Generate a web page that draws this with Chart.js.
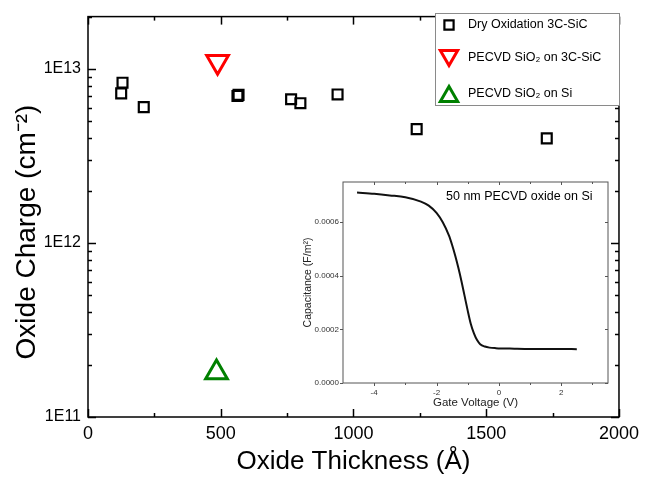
<!DOCTYPE html>
<html>
<head>
<meta charset="utf-8">
<script src="https://cdn.jsdelivr.net/npm/chart.js@4.4.1/dist/chart.umd.min.js"></script>
<style>
  html, body { margin: 0; padding: 0; background: #fff; }
  #wrap { position: relative; width: 645px; height: 479px; }
  #mainChart { position: absolute; left: 0; top: 0; }
  #insetChart { position: absolute; left: 290px; top: 170px; }
</style>
</head>
<body>
<div id="wrap">
  <canvas id="mainChart" width="645" height="479"></canvas>
  <canvas id="insetChart" width="330" height="245"></canvas>
</div>
<script>
// main plot data (thickness in Å, charge in cm^-2)
const dryThickness = [125, 130, 210, 563, 567, 765, 800, 940, 1238, 1728];
const dryCharge = [7.24e12, 8.34e12, 6.04e12, 7.0e12, 7.1e12, 6.7e12, 6.36e12, 7.14e12, 4.51e12, 3.99e12];
const pecvdSicThickness = [488];
const pecvdSicCharge = [1.1e13];
const pecvdSiThickness = [484];
const pecvdSiCharge = [1.8e11];

const xTickValues = [0, 500, 1000, 1500, 2000];
const yTickValues = [1e11, 1e12, 1e13];
const yTickLabels = ['1E11', '1E12', '1E13'];

const legendLabels = ['Dry Oxidation 3C-SiC', 'PECVD SiO\u2082 on 3C-SiC', 'PECVD SiO\u2082 on Si'];

// inset C-V curve
const gateVoltage = [-4.55, -4, -3.5, -3, -2.5, -2.25, -2, -1.8, -1.6, -1.5, -1.4, -1.3, -1.2, -1.1, -1.0, -0.9, -0.8, -0.7, -0.6, -0.45, -0.3, -0.1, 0.5, 1, 1.5, 2, 2.5];
const capacitance = [7.11e-4, 7.06e-4, 7.0e-4, 6.93e-4, 6.77e-4, 6.62e-4, 6.35e-4, 6.0e-4, 5.5e-4, 5.15e-4, 4.75e-4, 4.3e-4, 3.8e-4, 3.25e-4, 2.7e-4, 2.2e-4, 1.85e-4, 1.6e-4, 1.45e-4, 1.36e-4, 1.32e-4, 1.3e-4, 1.28e-4, 1.27e-4, 1.27e-4, 1.27e-4, 1.26e-4];
const insetXTicks = [-4, -2, 0, 2];
const insetYTicks = [0, 0.0002, 0.0004, 0.0006];
const insetYLabels = ['0.0000', '0.0002', '0.0004', '0.0006'];

const FONT = '"Liberation Sans", Arial, sans-serif';
Chart.defaults.font.family = FONT;
Chart.defaults.color = '#000';

function zip(xs, ys) {
  return xs.map((x, i) => ({ x: x, y: ys[i] }));
}

function line(ctx, x1, y1, x2, y2) {
  ctx.beginPath();
  ctx.moveTo(x1, y1);
  ctx.lineTo(x2, y2);
  ctx.stroke();
}

// frame + tick marks drawn through the chart scales
const frameTicks = {
  id: 'frameTicks',
  afterDatasetsDraw(chart, args, o) {
    const { ctx, chartArea: a, scales: { x, y } } = chart;
    ctx.save();
    ctx.strokeStyle = o.color;
    ctx.lineWidth = o.lineWidth;
    ctx.strokeRect(a.left, a.top, a.width, a.height);
    const bd = o.outward ? 1 : -1;   // bottom / left direction
    const xt = (vals, len) => vals.forEach(v => {
      const px = Math.round(x.getPixelForValue(v)) + 0.5;
      line(ctx, px, a.bottom, px, a.bottom + bd * len);
      line(ctx, px, a.top, px, a.top + len);
    });
    const yt = (vals, len) => vals.forEach(v => {
      const py = Math.round(y.getPixelForValue(v)) + 0.5;
      line(ctx, a.left, py, a.left - bd * len, py);
      line(ctx, a.right, py, a.right - len, py);
    });
    xt(o.xMajor, o.major);
    xt(o.xMinor, o.minor);
    yt(o.yMajor, o.major);
    yt(o.yMinor, o.minor);
    ctx.restore();
  }
};

const legendBox = {
  id: 'legendBox',
  afterDraw(chart) {
    const ctx = chart.ctx;
    ctx.save();
    ctx.fillStyle = '#fff';
    ctx.fillRect(435.5, 13.5, 184, 92);
    ctx.strokeStyle = '#8a8a8a';
    ctx.lineWidth = 1;
    ctx.strokeRect(435.5, 13.5, 184, 92);
    const rows = [25, 58, 94];
    chart.data.datasets.forEach((ds, i) => {
      ctx.strokeStyle = ds.borderColor;
      ctx.fillStyle = 'rgba(0,0,0,0)';
      ctx.lineWidth = ds.borderWidth;
      Chart.helpers.drawPoint(ctx, {
        pointStyle: ds.pointStyle,
        rotation: ds.rotation || 0,
        radius: ds.legendRadius,
        borderWidth: ds.borderWidth
      }, 449, rows[i] + (ds.legendShift || 0));
      ctx.fillStyle = '#000';
      ctx.font = '12.5px ' + FONT;
      ctx.textBaseline = 'middle';
      ctx.fillText(legendLabels[i], 468, rows[i]);
    });
    ctx.restore();
  }
};

// y title drawn by hand so it can sit where the original has it
const yTitle = {
  id: 'yTitle',
  afterDraw(chart, args, o) {
    const ctx = chart.ctx;
    ctx.save();
    ctx.translate(o.x, o.y);
    ctx.rotate(-Math.PI / 2);
    ctx.fillStyle = '#000';
    ctx.font = o.size + 'px ' + FONT;
    ctx.textAlign = 'center';
    ctx.textBaseline = 'middle';
    ctx.fillText(o.text, 0, 0);
    ctx.restore();
  }
};

const yMinor = [];
[1e11, 1e12].forEach(d => { for (let k = 2; k <= 9; k++) yMinor.push(k * d); });
yMinor.push(2e13);

new Chart(document.getElementById('mainChart'), {
  type: 'scatter',
  data: {
    datasets: [{
      data: zip(dryThickness, dryCharge),
      pointStyle: 'rect',
      radius: 7,
      legendRadius: 6.5,
      borderWidth: 2.2,
      borderColor: '#000',
      backgroundColor: 'rgba(0,0,0,0)'
    }, {
      data: zip(pecvdSicThickness, pecvdSicCharge),
      pointStyle: 'triangle',
      rotation: 180,
      radius: 12.5,
      legendRadius: 10,
      legendShift: -2.5,
      borderWidth: 3,
      borderColor: '#ff0000',
      backgroundColor: 'rgba(0,0,0,0)'
    }, {
      data: zip(pecvdSiThickness, pecvdSiCharge),
      pointStyle: 'triangle',
      radius: 12.5,
      legendRadius: 10,
      legendShift: 2.5,
      borderWidth: 3,
      borderColor: '#008000',
      backgroundColor: 'rgba(0,0,0,0)'
    }]
  },
  options: {
    responsive: false,
    animation: false,
    layout: { padding: { left: 0, top: 8, right: 20, bottom: 0 } },
    plugins: {
      legend: { display: false },
      tooltip: { enabled: false },
      frameTicks: {
        color: '#000', lineWidth: 1.5, outward: false, major: 8, minor: 4,
        xMajor: xTickValues, xMinor: [250, 750, 1250, 1750],
        yMajor: yTickValues, yMinor: yMinor
      },
      yTitle: { text: 'Oxide Charge (cm\u207b\u00b2)', size: 28, x: 27, y: 232 }
    },
    scales: {
      x: {
        type: 'linear',
        min: 0, max: 2000,
        afterFit: s => { s.height = 62; },
        afterBuildTicks: s => { s.ticks = xTickValues.map(v => ({ value: v })); },
        grid: { display: false, drawTicks: false },
        border: { display: false },
        ticks: { font: { size: 18 }, padding: 6, maxRotation: 0, callback: v => String(v) },
        title: { display: true, text: 'Oxide Thickness (\u00c5)', font: { size: 26 }, padding: { top: 0, bottom: 2 } }
      },
      y: {
        type: 'logarithmic',
        min: 1e11, max: 2e13,
        afterFit: s => { s.width = 88; },
        afterBuildTicks: s => { s.ticks = yTickValues.map(v => ({ value: v })); },
        grid: { display: false, drawTicks: false },
        border: { display: false },
        ticks: { font: { size: 16 }, padding: 7, callback: (v, i) => yTickLabels[i] },
        title: { display: false }
      }
    }
  },
  plugins: [frameTicks, legendBox, yTitle]
});

const insetNote = {
  id: 'insetNote',
  afterDraw(chart) {
    const ctx = chart.ctx;
    ctx.save();
    ctx.fillStyle = '#000';
    ctx.font = '12.5px ' + FONT;
    ctx.textBaseline = 'middle';
    ctx.fillText('50 nm PECVD oxide on Si', 156, 27);
    ctx.restore();
  }
};

new Chart(document.getElementById('insetChart'), {
  type: 'line',
  data: {
    datasets: [{
      data: zip(gateVoltage, capacitance),
      borderColor: '#111',
      borderWidth: 2,
      pointRadius: 0,
      cubicInterpolationMode: 'monotone',
      fill: false
    }]
  },
  options: {
    responsive: false,
    animation: false,
    layout: { padding: { left: 0, top: 12, right: 12, bottom: 0 } },
    plugins: {
      legend: { display: false },
      tooltip: { enabled: false },
      frameTicks: {
        color: '#555', lineWidth: 1, outward: true, major: 3, minor: 2,
        xMajor: insetXTicks, xMinor: [-3, -1, 1, 3],
        yMajor: insetYTicks, yMinor: []
      }
    },
    scales: {
      x: {
        type: 'linear',
        min: -5, max: 3.5,
        afterFit: s => { s.height = 32; },
        afterBuildTicks: s => { s.ticks = insetXTicks.map(v => ({ value: v })); },
        grid: { display: false, drawTicks: false },
        border: { display: false },
        ticks: { font: { size: 8 }, padding: 5, maxRotation: 0, color: '#333' },
        title: { display: true, text: 'Gate Voltage (V)', font: { size: 11.5 }, color: '#222', padding: { top: 0, bottom: 5 } }
      },
      y: {
        type: 'linear',
        min: 0, max: 0.00075,
        afterFit: s => { s.width = 53; },
        afterBuildTicks: s => { s.ticks = insetYTicks.map(v => ({ value: v })); },
        grid: { display: false, drawTicks: false },
        border: { display: false },
        ticks: { font: { size: 8 }, padding: 4, color: '#333', callback: (v, i) => insetYLabels[i] },
        title: { display: true, text: 'Capacitance (F/m\u00b2)', font: { size: 10.5 }, color: '#222', padding: { top: 12, bottom: 0 } }
      }
    }
  },
  plugins: [frameTicks, insetNote]
});
</script>
</body>
</html>
